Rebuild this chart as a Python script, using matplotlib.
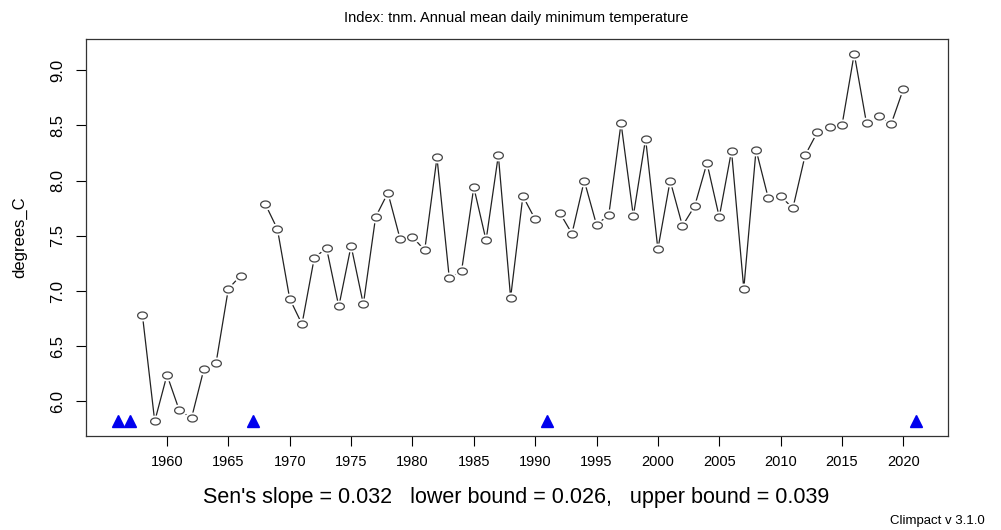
import numpy as np
import matplotlib
matplotlib.use('Agg')
import matplotlib.pyplot as plt
from matplotlib.path import Path

plt.rcParams['font.family'] = ['Liberation Sans', 'DejaVu Sans']

# annual mean daily minimum temperature (tnm), NaN = missing year
years = list(range(1958, 2021))
tnm = [6.78, 5.82, 6.24, 5.92, 5.85, 6.29, 6.35, 7.02, 7.14, np.nan,
       7.79, 7.56, 6.93, 6.70, 7.30, 7.39, 6.86, 7.41, 6.88, 7.67,
       7.89, 7.47, 7.49, 7.37, 8.21, 7.12, 7.18, 7.94, 7.46, 8.23,
       6.94, 7.86, 7.65, np.nan, 7.71, 7.52, 8.00, 7.60, 7.69, 8.52,
       7.68, 8.38, 7.38, 8.00, 7.59, 7.77, 8.16, 7.67, 8.27, 7.02,
       8.28, 7.84, 7.86, 7.75, 8.23, 8.44, 8.49, 8.50, 9.15, 8.52,
       8.59, 8.51, 8.83]
missing_years = [1956, 1957, 1967, 1991, 2021]
xticks = list(range(1960, 2021, 5))
yticks = [6.0, 6.5, 7.0, 7.5, 8.0, 8.5, 9.0]

title = 'Index: tnm. Annual mean daily minimum temperature'
slope_txt = "Sen's slope = 0.032   lower bound = 0.026,   upper bound = 0.039"

# slightly flattened circle, like the stretched R output
t = np.linspace(0, 2 * np.pi, 60)
ellipse = Path(np.column_stack([np.cos(t), 0.72 * np.sin(t)]))

fig = plt.figure(figsize=(10.01, 5.30), dpi=100)
ax = fig.add_axes([86 / 1001, 1 - 436 / 530, (947.5 - 86) / 1001, (436 - 39) / 530])

vals = np.array(tnm, dtype=float)
lo, hi = np.nanmin(vals), np.nanmax(vals)
pad = 0.04 * (hi - lo)
x_all = missing_years + years
xpad = 0.04 * (max(x_all) - min(x_all))

# type="b": line with gaps around the points
ax.plot(years, vals, color='#222222', lw=0.9, zorder=1)
ax.plot(years, vals, ls='none', marker=ellipse, ms=10.5, mfc='white', mec='white', zorder=2)
ax.plot(years, vals, ls='none', marker=ellipse, ms=7, mfc='white', mec='#444444', mew=0.9, zorder=3)

# missing years
ax.plot(missing_years, [lo] * len(missing_years), ls='none', marker='^', ms=9,
        color='#0000ee', zorder=4)

ax.set_xlim(min(x_all) - xpad, max(x_all) + xpad)
ax.set_ylim(lo - pad, hi + pad)
ax.set_xticks(xticks)
ax.set_yticks(yticks)
ax.set_yticklabels(['%.1f' % v for v in yticks], rotation=90, va='center')
ax.tick_params(axis='x', direction='out', length=7, width=0.8, labelsize=10.5, pad=7)
ax.tick_params(axis='y', direction='out', length=7, width=0.8, labelsize=12, pad=8)
for s in ax.spines.values():
    s.set_linewidth(0.9)
    s.set_color('#333333')

fig.text(516 / 1001, 1 - 18 / 530, title, ha='center', va='center', fontsize=10.5)
fig.text(20 / 1001, 1 - 237 / 530, 'degrees_C', rotation=90, ha='center', va='center', fontsize=12)
fig.text(516 / 1001, 1 - 497 / 530, slope_txt, ha='center', va='center', fontsize=15.5)
fig.text(985 / 1001, 1 - 521 / 530, 'Climpact v 3.1.0', ha='right', va='center', fontsize=9.5)

fig.savefig('out.png', dpi=100)
